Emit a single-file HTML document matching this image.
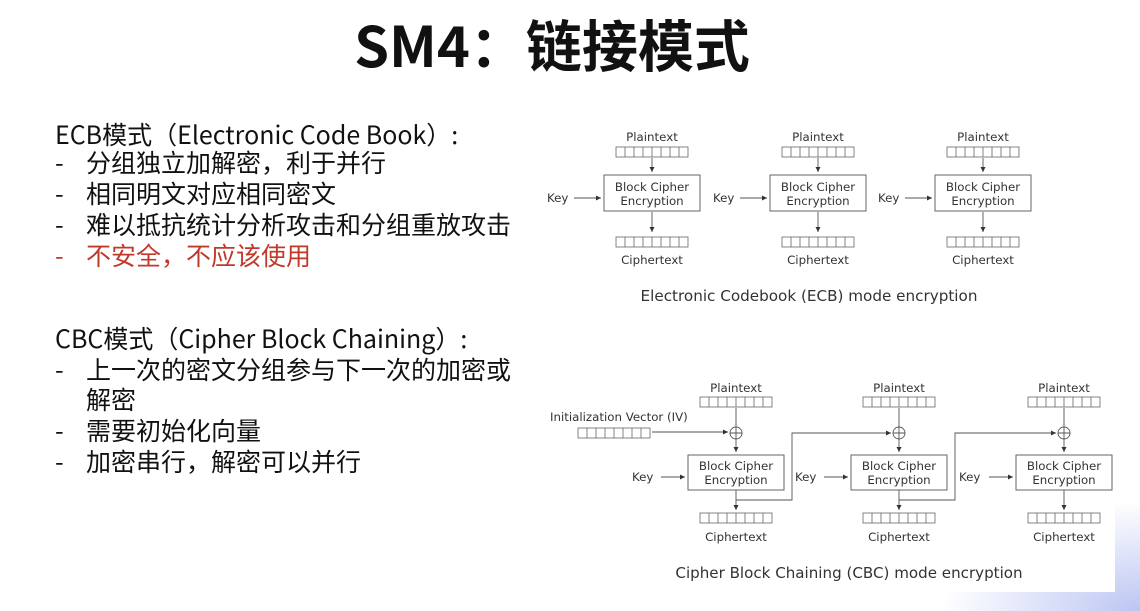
<!DOCTYPE html>
<html><head><meta charset="utf-8"><style>
html,body{margin:0;padding:0;background:#fff;}
body{width:1140px;height:611px;overflow:hidden;position:relative;font-family:"Noto Sans CJK SC","Liberation Sans",sans-serif;}
.bg{position:absolute;right:0;bottom:0;width:200px;height:110px;background:radial-gradient(ellipse at 100% 100%,rgba(120,140,230,0.5),rgba(255,255,255,0) 70%);}
.title{position:absolute;left:0;width:1104px;top:6px;text-align:center;font-size:56px;font-weight:bold;color:#111;line-height:76px;}
.t{position:absolute;left:0;width:540px;height:32px;font-size:25px;color:#111;line-height:30px;white-space:nowrap;}
.d{position:absolute;left:55px;}
.i{position:absolute;left:86px;}
.h{position:absolute;left:55px;}
.red{color:#c0392b;}
svg{position:absolute;left:0;top:0;}
</style></head><body>
<div class="bg"></div>
<div style="position:absolute;left:535px;top:112px;width:580px;height:480px;background:#fff;"></div>
<div class="title">SM4：链接模式</div>
<div class="t" style="top:119px"><span class="h">ECB模式（Electronic Code Book）:</span></div>
<div class="t" style="top:147px"><span class="d">-</span><span class="i">分组独立加解密，利于并行</span></div>
<div class="t" style="top:178px"><span class="d">-</span><span class="i">相同明文对应相同密文</span></div>
<div class="t" style="top:209px"><span class="d">-</span><span class="i">难以抵抗统计分析攻击和分组重放攻击</span></div>
<div class="t red" style="top:240px"><span class="d">-</span><span class="i">不安全，不应该使用</span></div>
<div class="t" style="top:323px"><span class="h">CBC模式（Cipher Block Chaining）:</span></div>
<div class="t" style="top:354px"><span class="d">-</span><span class="i">上一次的密文分组参与下一次的加密或</span></div>
<div class="t" style="top:384px"><span class="i">解密</span></div>
<div class="t" style="top:415px"><span class="d">-</span><span class="i">需要初始化向量</span></div>
<div class="t" style="top:446px"><span class="d">-</span><span class="i">加密串行，解密可以并行</span></div>

<svg width="1140" height="611" viewBox="0 0 1140 611" font-family="'DejaVu Sans','Liberation Sans',sans-serif" font-size="11.8" fill="#333">
<defs>
<g id="reg" fill="none" stroke="#666" stroke-width="0.8">
<rect x="0" y="0" width="72" height="10"/>
<path d="M9 0V10M18 0V10M27 0V10M36 0V10M45 0V10M54 0V10M63 0V10"/>
</g>
<marker id="ah" markerWidth="6" markerHeight="6" refX="5" refY="3" orient="auto" markerUnits="userSpaceOnUse"><path d="M0,0.5 L5,3 L0,5.5z" fill="#333"/></marker>
</defs>
<g stroke="#555" stroke-width="0.9" fill="none">
<path d="M652 158V172" marker-end="url(#ah)"/><path d="M652 212V232" marker-end="url(#ah)"/><path d="M574 198H601" marker-end="url(#ah)"/>
<path d="M818 158V172" marker-end="url(#ah)"/><path d="M818 212V232" marker-end="url(#ah)"/><path d="M740 198H767" marker-end="url(#ah)"/>
<path d="M983 158V172" marker-end="url(#ah)"/><path d="M983 212V232" marker-end="url(#ah)"/><path d="M905 198H932" marker-end="url(#ah)"/>
<rect x="604" y="175" width="96" height="36"/><rect x="770" y="175" width="96" height="36"/><rect x="935" y="175" width="96" height="36"/>
<rect x="688" y="455" width="96" height="35"/><rect x="851" y="455" width="96" height="35"/><rect x="1016" y="455" width="96" height="35"/>
<circle cx="736" cy="433" r="6"/><path d="M730 433H742M736 427V439"/>
<circle cx="899" cy="433" r="6"/><path d="M893 433H905M899 427V439"/>
<circle cx="1064" cy="433" r="6"/><path d="M1058 433H1070M1064 427V439"/>
<path d="M736 408V427M899 408V427M1064 408V427"/>
<path d="M736 439V452" marker-end="url(#ah)"/><path d="M899 439V452" marker-end="url(#ah)"/><path d="M1064 439V452" marker-end="url(#ah)"/>
<path d="M652 432H728" marker-end="url(#ah)"/>
<path d="M661 477H685" marker-end="url(#ah)"/><path d="M824 477H848" marker-end="url(#ah)"/><path d="M989 477H1013" marker-end="url(#ah)"/>
<path d="M736 490V510" marker-end="url(#ah)"/><path d="M899 490V510" marker-end="url(#ah)"/><path d="M1064 490V510" marker-end="url(#ah)"/>
<path d="M736 500H792V433H891" marker-end="url(#ah)"/>
<path d="M899 500H955V433H1056" marker-end="url(#ah)"/>
</g>
<use href="#reg" x="616" y="147"/><use href="#reg" x="616" y="237"/>
<use href="#reg" x="782" y="147"/><use href="#reg" x="782" y="237"/>
<use href="#reg" x="947" y="147"/><use href="#reg" x="947" y="237"/>
<use href="#reg" x="700" y="397"/><use href="#reg" x="700" y="513"/>
<use href="#reg" x="863" y="397"/><use href="#reg" x="863" y="513"/>
<use href="#reg" x="1028" y="397"/><use href="#reg" x="1028" y="513"/>
<use href="#reg" x="578" y="428"/>
<g text-anchor="middle">
<text x="652" y="141">Plaintext</text><text x="818" y="141">Plaintext</text><text x="983" y="141">Plaintext</text>
<text x="652" y="191">Block Cipher</text><text x="652" y="205">Encryption</text>
<text x="818" y="191">Block Cipher</text><text x="818" y="205">Encryption</text>
<text x="983" y="191">Block Cipher</text><text x="983" y="205">Encryption</text>
<text x="652" y="264">Ciphertext</text><text x="818" y="264">Ciphertext</text><text x="983" y="264">Ciphertext</text>
<text x="809" y="301" font-size="15.2">Electronic Codebook (ECB) mode encryption</text>
<text x="736" y="392">Plaintext</text><text x="899" y="392">Plaintext</text><text x="1064" y="392">Plaintext</text>
<text x="736" y="470">Block Cipher</text><text x="736" y="484">Encryption</text>
<text x="899" y="470">Block Cipher</text><text x="899" y="484">Encryption</text>
<text x="1064" y="470">Block Cipher</text><text x="1064" y="484">Encryption</text>
<text x="736" y="541">Ciphertext</text><text x="899" y="541">Ciphertext</text><text x="1064" y="541">Ciphertext</text>
<text x="849" y="578" font-size="15.1">Cipher Block Chaining (CBC) mode encryption</text>
</g>
<text x="547" y="202">Key</text><text x="713" y="202">Key</text><text x="878" y="202">Key</text>
<text x="550" y="421">Initialization Vector (IV)</text>
<text x="632" y="481">Key</text><text x="795" y="481">Key</text><text x="959" y="481">Key</text>
</svg>
</body></html>
